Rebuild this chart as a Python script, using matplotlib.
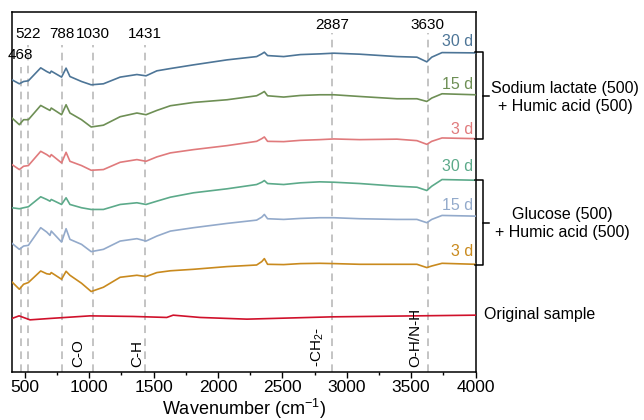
import numpy as np
import matplotlib.pyplot as plt

plt.rcParams['font.family'] = ['Liberation Sans', 'DejaVu Sans']
plt.rcParams['mathtext.fontset'] = 'custom'
plt.rcParams['mathtext.rm'] = 'Liberation Sans'
plt.rcParams['mathtext.it'] = 'Liberation Sans'

# wavenumber grid (cm-1) for treated samples
wn = [400, 457, 490, 527, 623, 670, 695, 705, 785, 820, 850, 940, 1015, 1110, 1240, 1370, 1441, 1525,
      1630, 1810, 2070, 2300, 2340, 2360, 2385, 2510, 2640, 2790, 2900, 3100, 3390, 3545, 3622, 3660, 3740, 4000]

# sodium lactate + humic acid (offset spectra, arb. units)
sl_30 = [293, 289, 291.3, 292, 305, 301.3, 299.7, 301.7, 295.7, 304.7, 296.3, 291.3, 288, 289, 295.7, 298.3, 297, 302,
         304.3, 308, 313, 316.3, 319, 320.7, 317.3, 316.3, 318.3, 319, 319.7, 318.7, 316.3, 315.7, 311, 315.7, 320.3, 320]
sl_15 = [254.7, 248, 253, 253, 267.3, 264, 262.3, 264.7, 258, 268, 259.7, 253, 245.7, 247.5, 256, 259.7, 258, 262.3,
         267, 270.3, 273, 277, 279.7, 281.3, 277, 275.7, 277.3, 278, 278, 276.3, 274, 274, 271.3, 274.7, 279, 278]
sl_3 = [208, 203, 206.3, 207, 221.3, 218, 215.7, 218, 209.7, 220.3, 211.3, 207, 202.3, 203, 210.3, 213, 211.3, 215.7,
        219.7, 223, 227, 231.3, 234, 235.7, 231.3, 231, 232.3, 233, 233.7, 233, 233.5, 232, 228.3, 231.3, 234.7, 234]

# glucose + humic acid
gl_30 = [164.7, 163.7, 164.7, 165.7, 175.7, 173, 171.3, 173, 168, 174.7, 168, 164.7, 163, 163, 168, 169.7, 168, 171.3,
         175.3, 179.7, 183.7, 188, 190.3, 192, 189, 188, 189.7, 190.7, 190.3, 189, 186.3, 185.3, 182, 186.3, 193, 192.3]
gl_15 = [129, 123, 126.3, 127, 144.7, 140.3, 137, 141.3, 130.3, 143.7, 133, 128, 120.7, 123, 131.3, 133.7, 131.3, 136.3,
         141.3, 144.7, 149, 152.3, 155.3, 158, 153.7, 153, 154, 154.7, 154.7, 153.7, 153, 153, 149.7, 153, 157, 156.3]
gl_3 = [90.3, 83, 88, 89.7, 101.3, 98.5, 98, 99.7, 93, 101, 97, 89, 80.7, 85, 95, 97, 95.7, 99.7,
        101.5, 103, 105.7, 107.3, 110.7, 113.7, 108, 107.7, 108.7, 109, 108.7, 108, 108, 108, 104.7, 106.3, 109, 108]

# original sample
wn_orig = [400, 455, 540, 695, 1006, 1341, 1602, 1652, 1860, 2225, 2883, 4000]
orig = [53.7, 56.3, 52.3, 53.7, 56.3, 55.7, 54.7, 57, 54.7, 53, 55.3, 57]

series = [sl_30, sl_15, sl_3, gl_30, gl_15, gl_3]
colors = ['#4d7597', '#6e8f55', '#e07a7c', '#5caa8a', '#93aacb', '#c98a1e']
days = ['30 d', '15 d', '3 d', '30 d', '15 d', '3 d']
day_y = [331, 288, 243, 206, 167, 121]

peaks = [468, 522, 788, 1030, 1431, 2887, 3630]
peak_lbl_y = [318, 339, 339, 339, 339, 348, 348]
peak_top = [306, 328, 328, 328, 328, 340, 340]

bands = ['C-O', 'C-H', '-CH$_2$-', 'O-H/N-H']
band_x = [913, 1371, 2777, 3530]

fig = plt.figure(figsize=(6.44, 4.2), dpi=100)
ax = fig.add_axes([12/644, 1-372/420, 463.5/644, 360/420])

for p, top in zip(peaks, peak_top):
    ax.plot([p, p], [0, top], color='#b4b4b4', lw=1.1, ls=(0, (5, 3.5)), zorder=1)
for p, yy in zip(peaks, peak_lbl_y):
    ax.text(p, yy, str(p), ha='center', va='center', fontsize=11)

for s, c in zip(series, colors):
    ax.plot(wn, s, color=c, lw=1.2, zorder=3)
ax.plot(wn_orig, orig, color='#d0112b', lw=1.2, zorder=3)

for d, yy, c in zip(days, day_y, colors):
    ax.text(3985, yy, d, color=c, ha='right', va='center', fontsize=11.5)

for b, bx in zip(bands, band_x):
    ax.text(bx, 5, b, rotation=90, ha='center', va='bottom', fontsize=11)

ax.set_xlim(400, 4000)
ax.set_ylim(0, 361)
ax.set_yticks([])
ax.set_xticks(np.arange(500, 4001, 500))
ax.set_xticks(np.arange(750, 4000, 500), minor=True)
ax.tick_params(axis='x', which='major', direction='out', length=4, width=1, labelsize=12.5, pad=2)
ax.tick_params(axis='x', which='minor', direction='out', length=2.5, width=1)
for sp in ax.spines.values():
    sp.set_linewidth(1.1)
ax.set_xlabel('Wavenumber (cm$^{-1}$)', fontsize=13, labelpad=1)

# brackets on the right
def bracket(y0, y1):
    x0, x1 = 475/644, 483/644
    fy0, fy1 = 1-y0/420, 1-y1/420
    fig.add_artist(plt.Line2D([x0, x1, x1, x0], [fy0, fy0, fy1, fy1], color='k', lw=1.1))
    ym = (fy0 + fy1) / 2
    fig.add_artist(plt.Line2D([x1, 489/644], [ym, ym], color='k', lw=1.1))

bracket(52, 139)
bracket(180, 265)
fig.text(565/644, 1-97/420, 'Sodium lactate (500)\n+ Humic acid (500)', ha='center', va='center', fontsize=11.5, linespacing=1.25)
fig.text(562/644, 1-224/420, 'Glucose (500)\n+ Humic acid (500)', ha='center', va='center', fontsize=11.5, linespacing=1.25)
fig.text(484/644, 1-314/420, 'Original sample', ha='left', va='center', fontsize=11.5)

fig.savefig('out.png', dpi=100)
